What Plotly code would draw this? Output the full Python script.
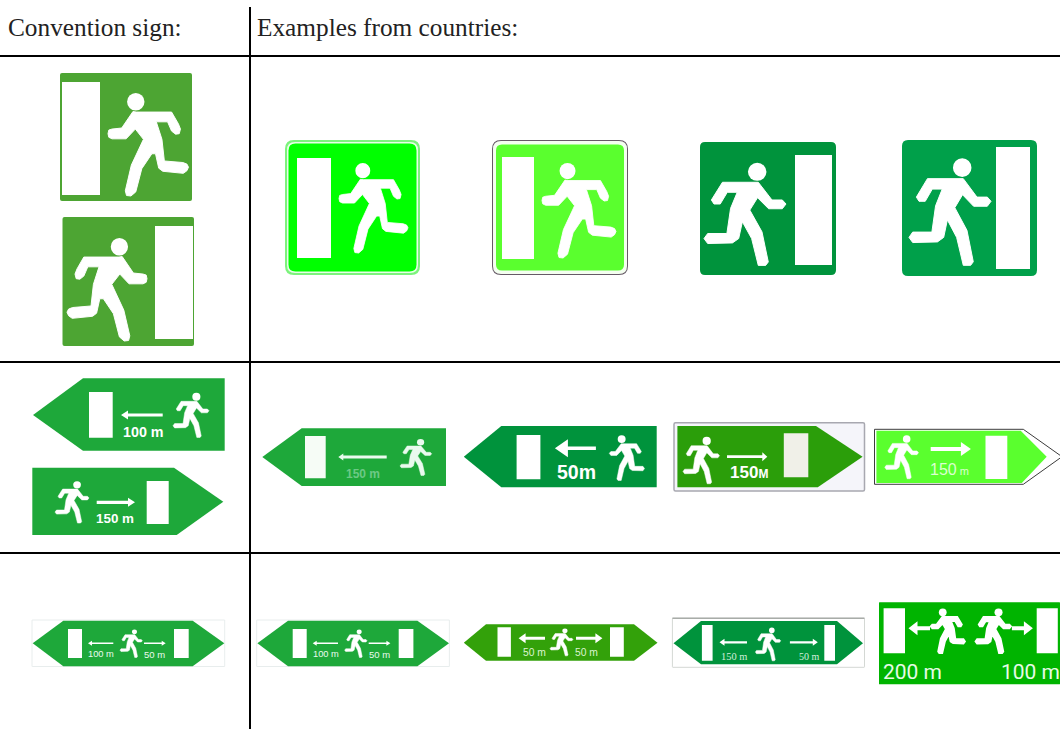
import plotly.graph_objects as go

# ---- table text and rules -------------------------------------------------
HEADER_LABELS = ["Convention sign:", "Examples from countries:"]
HEADER_X = [5.5, 254.5]
HEADER_Y = 27
RULE_Y = [56, 362, 553]
DIVIDER_X = 250

# ---- pictogram outlines (unit box, running towards the left) ---------------
RUNNER_X = [0.31, 0.35, 0.79, 0.875, 0.90, 0.885, 0.84, 0.79, 0.74, 0.60, 0.67, 0.70, 0.93, 0.98, 1.0, 0.98, 0.935,
            0.68, 0.63, 0.59, 0.545, 0.42, 0.345, 0.285, 0.23, 0.215, 0.29, 0.44, 0.34, 0.225, 0.05, 0.01, 0.0, 0.01, 0.05, 0.17]
RUNNER_Y = [0.18, 0.185, 0.185, 0.30, 0.35, 0.395, 0.40, 0.37, 0.28, 0.28, 0.45, 0.66, 0.675, 0.69, 0.72, 0.755, 0.78,
            0.76, 0.73, 0.59, 0.59, 0.735, 0.96, 1.0, 0.995, 0.95, 0.70, 0.45, 0.35, 0.445, 0.445, 0.43, 0.395, 0.36, 0.35, 0.34]
HEAD_CX, HEAD_CY, HEAD_RX, HEAD_RY = 0.345, 0.085, 0.108, 0.085

# second outline, as drawn running towards the right, squarer rear leg
BLOCK_X = [.225, .662, .829, .955, 1, .955, .788, .653, .559, .707, .784, .752, .662, .581, .468, .423, .347, .045, 0, .045,
           .279, .324, .405, .284, .198, .122, .09]
BLOCK_Y = [.191, .191, .362, .362, .401, .447, .447, .340, .460, .670, .961, .994, .994, .735, .573, .735, .777, .783, .735,
           .686, .686, .443, .288, .288, .401, .401, .362]
BLOCK_HEAD = (.649, .09, .113, .087)

# ---- sign colours ----------------------------------------------------------
CONV_SQ = "#4da533"
CONV_AR = "#1ea83a"
BRIGHT = "#00ff00"
LIME = "#5aff2e"
DARK = "#00933c"
DARK2 = "#00a04a"
OLIVE = "#2b9e0a"
OLIVE2 = "#33a10a"
SWISS = "#00b400"
WHITE = "#ffffff"

shapes, notes = [], []


def poly(xs, ys, fill, line=None, lw=0):
    d = "M" + " L".join(f"{x:.2f},{y:.2f}" for x, y in zip(xs, ys)) + " Z"
    shapes.append(dict(type="path", path=d, fillcolor=fill, xref="x", yref="y",
                       line=dict(color=line or fill, width=lw)))


def rrect(x0, y0, x1, y1, r, fill, line=None, lw=0):
    d = (f"M{x0+r},{y0} L{x1-r},{y0} Q{x1},{y0} {x1},{y0+r} L{x1},{y1-r} Q{x1},{y1} {x1-r},{y1} "
         f"L{x0+r},{y1} Q{x0},{y1} {x0},{y1-r} L{x0},{y0+r} Q{x0},{y0} {x0+r},{y0} Z")
    shapes.append(dict(type="path", path=d, fillcolor=fill, xref="x", yref="y",
                       line=dict(color=line or fill, width=lw)))


def door(x0, y0, x1, y1, fill=WHITE):
    rrect(x0, y0, x1, y1, 0.01, fill)


def runner(x0, y0, x1, y1, mirror=False, fill=WHITE, block=True, grow=0.012):
    w, h = x1 - x0, y1 - y0
    fx = (lambda u: x1 - u * w) if mirror else (lambda u: x0 + u * w)
    if block:
        us = [1 - u for u in BLOCK_X]
        vs = BLOCK_Y
        hx, hy, rx, ry = 1 - BLOCK_HEAD[0], BLOCK_HEAD[1], BLOCK_HEAD[2], BLOCK_HEAD[3]
    else:
        us, vs = RUNNER_X, RUNNER_Y
        hx, hy, rx, ry = HEAD_CX, HEAD_CY, HEAD_RX, HEAD_RY
    poly([fx(u) for u in us], [y0 + v * h for v in vs], fill, fill, max(0.5, grow * w))
    cx, cy = fx(hx), y0 + hy * h
    shapes.append(dict(type="circle", xref="x", yref="y", fillcolor=fill, line=dict(width=0),
                       x0=cx - rx * w, x1=cx + rx * w, y0=cy - ry * h, y1=cy + ry * h))


def arrow(tail, tip, y, t, hl, hw, fill=WHITE):
    s = 1 if tip > tail else -1
    b = tip - s * hl
    poly([tail, b, b, tip, b, b, tail],
         [y - t / 2, y - t / 2, y - hw, y, y + hw, y + t / 2, y + t / 2], fill)


def label(x, y, txt, size, color=WHITE, bold=False, family="Liberation Sans"):
    notes.append(dict(x=x, y=y, text=f"<b>{txt}</b>" if bold else txt, showarrow=False, xref="x", yref="y",
                      xanchor="center", yanchor="middle", font=dict(size=size, color=color, family=family)))


# ---- row 1: square signs ----------------------------------------------------
rrect(60, 73, 192, 201, 2, CONV_SQ)
door(62, 82, 100, 195)
runner(108, 93, 188.5, 196, block=False)

rrect(62.5, 217, 194, 346, 2, CONV_SQ)
door(155, 226, 193, 339)
runner(67, 238, 147, 341, mirror=True, block=False)

rrect(285, 140, 420, 275, 9, "#7cf37c")
rrect(287, 142, 418, 273, 8, "#e8fde8")
rrect(288.5, 143.5, 416.5, 271.5, 7, BRIGHT)
door(297, 158, 331, 258)
runner(339, 163, 408, 253, block=False)

rrect(492, 140, 628, 275, 9, "#665a66")
rrect(493, 141, 627, 274, 8, "#f4fff0")
rrect(496, 144.5, 624, 270.5, 6, LIME)
door(502, 157, 534, 259)
runner(542, 163, 616, 258, block=False)

rrect(700, 142, 836, 275, 5, DARK)
door(795, 155, 832, 265)
runner(704, 162.5, 786, 266, mirror=True)

rrect(902, 140, 1037, 276, 6, DARK2)
door(996, 147, 1030, 269)
runner(909, 158, 991, 266, mirror=True)

# ---- row 2: one-way signs -----------------------------------------------------
poly([33, 83, 224.7, 224.7, 83], [415, 378.3, 378.3, 450.7, 450.7], CONV_AR)
door(89, 392, 112.7, 437.7)
arrow(162.7, 121, 415, 3.2, 7, 4.5)
label(143, 432, "100 m", 14.3, bold=True)
runner(173, 392.7, 209, 437.7, mirror=True)

poly([32.3, 174, 223.3, 176.7, 32.3], [467.7, 467.7, 501.7, 535, 535], CONV_AR)
door(146.7, 481, 168.7, 524)
arrow(96.7, 135, 502.3, 3.2, 7, 4.5)
label(115, 518.5, "150 m", 13.4, bold=True)
runner(55, 481, 89, 523.3, mirror=True)

poly([262.3, 301.7, 446, 446, 301.7], [457, 428.3, 428.3, 486, 486], CONV_AR)
door(305, 436, 325.7, 478.3, "#f6fcf6")
arrow(386.7, 338.3, 457, 3, 5, 3.5, "#eafaee")
label(363, 473.5, "150 m", 12, "#6cc985", bold=True)
runner(400, 439, 431.7, 475.7, mirror=True, fill="#eafaee")

poly([463.8, 501.3, 656.7, 656.7, 501.3], [456.7, 426, 426, 487.3, 487.3], DARK)
door(516.6, 435, 540.4, 479.3)
arrow(595.9, 554.9, 448.3, 3.6, 13, 9)
label(576.7, 472.3, "50m", 19.5, bold=True)
runner(609.3, 435, 644.5, 480.7)

rrect(674, 422.7, 864.5, 491, 1.5, "#f5f5fa", "#a8a8b0", 1.5)
poly([677.4, 816, 862.6, 817.8, 677.4], [426, 426, 456.7, 487.3, 487.3], OLIVE)
door(783.8, 433.3, 808.3, 477.3, "#f0f0e8")
arrow(727, 767.3, 456.7, 2.8, 5, 4.5)
label(749, 472.3, "150<span style='font-size:12px'>M</span>", 17, bold=True)
runner(683, 436.7, 719.5, 484, mirror=True)

poly([874.5, 1023.3, 1062, 1023.3, 874.5], [429.3, 429.3, 456.7, 484.3, 484.3], WHITE, "#3c3c3c", 1)
poly([876.4, 1020.7, 1046.7, 1021.8, 876.4], [430.7, 430.7, 456.7, 483, 483], LIME)
door(985.5, 435.7, 1007.3, 479)
arrow(930.7, 970.9, 449, 4, 10, 7)
label(949.9, 469, "150<span style='font-size:11px'> m</span>", 16, "#dcffd0")
runner(884.8, 435, 918.5, 479, mirror=True)

# ---- row 3: two-way signs -----------------------------------------------------
for dx in [0, 224.7]:
    rrect(32 + dx, 620, 224.7 + dx, 666.5, 0.2, WHITE, "#e2e8e8", 0.8)
    poly([32.7 + dx, 63.3 + dx, 192.7 + dx, 224.3 + dx, 192.7 + dx, 63.3 + dx],
         [643.3, 620.7, 620.7, 643.3, 666.3, 666.3], CONV_AR)
    door(68 + dx, 629, 82 + dx, 658)
    door(174 + dx, 629, 188.7 + dx, 658)
    arrow(113.3 + dx, 88 + dx, 643.3, 1.6, 4, 2.5)
    arrow(144 + dx, 165.7 + dx, 643.3, 1.6, 4, 2.5)
    label(101.3 + dx, 654.3, "100 m", 9.3, "#eafaee")
    label(154.3 + dx, 654.3, "50 m", 9.5, "#eafaee")
    runner(120 + dx, 629.3, 142.3 + dx, 657.7, mirror=True)

poly([463.8, 486, 634, 657.5, 634, 486], [642.7, 624.3, 624.3, 642.7, 660.7, 660.7], OLIVE2)
door(497.5, 627.3, 510.9, 656.7)
door(610, 627.3, 623.8, 656.7)
arrow(545, 518.6, 638.3, 3, 7, 5)
arrow(576, 602.4, 638.3, 3, 7, 5)
label(534.6, 652.3, "50 m", 10.3, "#dcf5d0")
label(586.3, 652.3, "50 m", 10.3, "#dcf5d0")
runner(550, 628.3, 573, 656, mirror=True)

rrect(672.4, 618.3, 864.5, 667.3, 0.5, WHITE, "#d4d8d4", 1)
shapes.append(dict(type="line", x0=672.4, x1=864.5, y0=618.3, y1=618.3, xref="x", yref="y",
                   line=dict(color="#a8aca8", width=1.4)))
poly([673.5, 701, 837, 863, 837, 701], [643.3, 621, 621, 643.3, 664.3, 664.3], DARK)
door(701.9, 625, 712.6, 660.7)
door(824.3, 625, 835, 660.7)
arrow(747, 719.5, 642.3, 2.2, 5, 3.5)
arrow(789.9, 817.8, 642.3, 2.2, 5, 3.5)
label(733.6, 656.3, "150 m", 10.4, "#d5efdd", family="Liberation Serif")
label(809, 656.3, "50 m", 10, "#d5efdd", family="Liberation Serif")
runner(755.4, 627.3, 780.7, 661, mirror=True)

rrect(879, 602.3, 1060, 684.3, 0.5, SWISS)
door(883.6, 608.3, 905, 653.3)
door(1036.7, 608.3, 1057.8, 653.3)
arrow(930, 908.5, 628.3, 4, 9, 7)
arrow(1011.9, 1032.9, 628.3, 4, 9, 7)
label(912.7, 672.3, "200 m", 21, "#e6fbe6", family="Roboto")
label(1030, 672.3, "100 m", 21, "#e6fbe6", family="Roboto")
runner(930.7, 608.3, 965, 653.3, grow=0.05)
runner(975.5, 608.3, 1011, 653.3, mirror=True, grow=0.05)

# ---- table rules and headers --------------------------------------------------
for y in RULE_Y:
    shapes.append(dict(type="line", x0=0, x1=1060, y0=y, y1=y, xref="x", yref="y", line=dict(color="#000", width=2)))
shapes.append(dict(type="line", x0=DIVIDER_X, x1=DIVIDER_X, y0=7, y1=729, xref="x", yref="y",
                   line=dict(color="#000", width=2)))
for x, t in zip(HEADER_X, HEADER_LABELS):
    notes.append(dict(x=x, y=HEADER_Y, text=t, showarrow=False, xref="x", yref="y", xanchor="left", yanchor="middle",
                      font=dict(size=25.3, color="#222", family="Liberation Serif")))

fig = go.Figure()
fig.update_layout(
    width=1060, height=729, autosize=False, margin=dict(l=0, r=0, t=0, b=0),
    paper_bgcolor="white", plot_bgcolor="white", showlegend=False,
    xaxis=dict(range=[0, 1060], visible=False, fixedrange=True),
    yaxis=dict(range=[729, 0], visible=False, fixedrange=True),
    shapes=shapes, annotations=notes,
)
fig.write_html("out.html", config={"displayModeBar": False},
               post_script="document.body.style.margin='0';document.body.style.overflow='hidden';")
